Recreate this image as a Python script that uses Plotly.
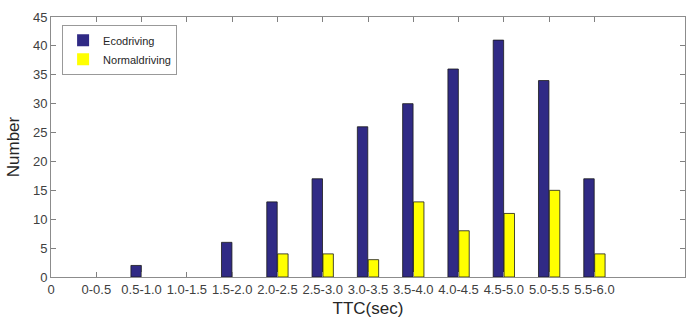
import plotly.graph_objects as go

categories = ["0-0.5", "0.5-1.0", "1.0-1.5", "1.5-2.0", "2.0-2.5", "2.5-3.0",
              "3.0-3.5", "3.5-4.0", "4.0-4.5", "4.5-5.0", "5.0-5.5", "5.5-6.0"]
eco = [0, 2, 0, 6, 13, 17, 26, 30, 36, 41, 34, 17]
normal = [0, 0, 0, 0, 4, 4, 3, 13, 8, 11, 15, 4]
y_ticks = list(range(0, 50, 5))

xpos = list(range(1, len(categories) + 1))


def edge_widths(vals):
    return [0.8 if v > 0 else 0 for v in vals]


fig = go.Figure()
fig.add_trace(go.Bar(x=xpos, y=eco, name="Ecodriving",
                     marker=dict(color="#302a85",
                                 line=dict(color="#1a1a1a", width=edge_widths(eco)))))
fig.add_trace(go.Bar(x=xpos, y=normal, name="Normaldriving",
                     marker=dict(color="#ffff00",
                                 line=dict(color="#1a1a1a", width=edge_widths(normal)))))

font_family = "Liberation Sans, Arial, sans-serif"
fig.update_layout(
    width=696, height=329,
    margin=dict(l=51, r=10, t=10, b=52),
    paper_bgcolor="white", plot_bgcolor="white",
    barmode="group", bargap=0.52, bargroupgap=0.04,
    font=dict(family=font_family, size=13, color="#404040"),
    legend=dict(x=0.0175, y=0.97, xanchor="left", yanchor="top",
                bgcolor="white", bordercolor="#999999", borderwidth=1,
                font=dict(size=11, color="#262626"),
                tracegroupgap=0, itemwidth=30),
    xaxis=dict(range=[0, 14], tickvals=[0] + xpos, ticktext=["0"] + categories,
               ticks="inside", ticklen=5, tickcolor="#808080",
               showline=True, linecolor="#8c8c8c", mirror="ticks",
               showgrid=False, zeroline=False,
               title=dict(text="TTC(sec)", font=dict(size=17, color="#262626"), standoff=6)),
    yaxis=dict(range=[0, 45], tickvals=y_ticks,
               ticks="inside", ticklen=5, tickcolor="#808080",
               showline=True, linecolor="#8c8c8c", mirror="ticks",
               showgrid=False, zeroline=False,
               title=dict(text="Number", font=dict(size=17, color="#262626"), standoff=8)),
)

fig.write_html("out.html")
